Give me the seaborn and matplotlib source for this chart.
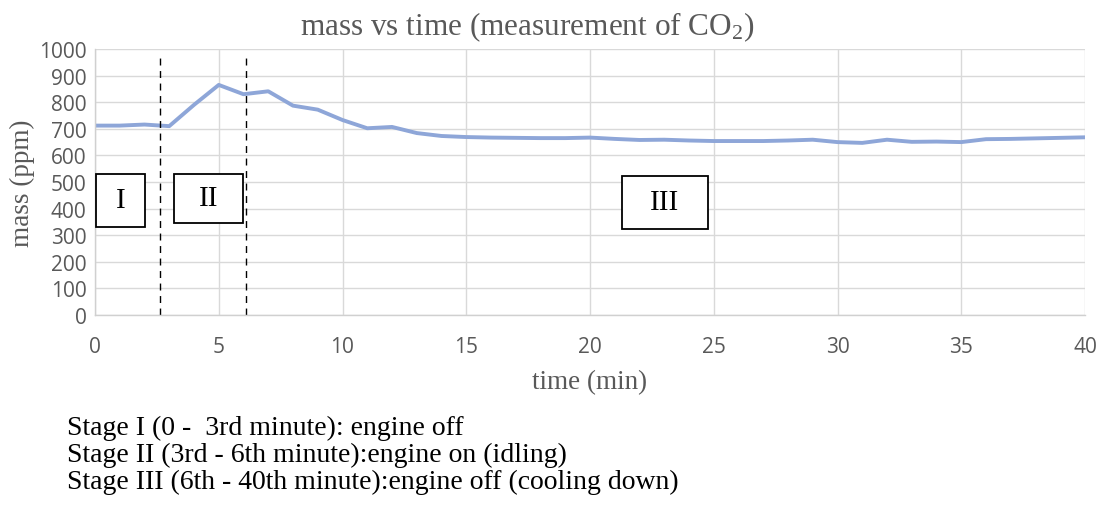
import matplotlib
matplotlib.use("Agg")
import matplotlib.pyplot as plt
import seaborn as sns
import pandas as pd
from matplotlib.patches import Rectangle

# ---- data ----
time_min = list(range(0, 41))
co2_ppm = [712, 712, 716, 710, 790, 865, 830, 841, 787, 772,
           733, 702, 707, 684, 673, 669, 667, 666, 665, 665,
           667, 662, 658, 659, 656, 654, 654, 654, 656, 659,
           650, 647, 659, 651, 652, 650, 661, 662, 664, 666, 668]
stage_bounds = [2.63, 6.1]
stage_labels = ["I", "II", "III"]
notes = ["Stage I (0 -  3rd minute): engine off",
         "Stage II (3rd - 6th minute):engine on (idling)",
         "Stage III (6th - 40th minute):engine off (cooling down)"]

df = pd.DataFrame({"time": time_min, "mass": co2_ppm})

sns.set_theme(style="whitegrid")
plt.rcParams["font.family"] = ["DejaVu Sans"]
plt.rcParams["mathtext.fontset"] = "custom"
plt.rcParams["mathtext.rm"] = "Liberation Serif"
plt.rcParams["mathtext.it"] = "Liberation Serif:italic"
plt.rcParams["mathtext.bf"] = "Liberation Serif:bold"

W, H = 1101, 506
fig = plt.figure(figsize=(W / 100, H / 100), dpi=100)
L, R, T, B = 95, 1085, 50, 316
ax = fig.add_axes([L / W, (H - B) / H, (R - L) / W, (B - T) / H])

sns.lineplot(data=df, x="time", y="mass", ax=ax, color="#8EA6D8", linewidth=2.8)

ax.set_xlim(0, 40)
ax.set_ylim(0, 1000)
ax.set_xticks(range(0, 41, 5))
ax.set_yticks(range(0, 1001, 100))
ax.grid(True, color="#d9d9d9", linewidth=1.0)
ax.set_axisbelow(True)
for s in ["top", "right"]:
    ax.spines[s].set_visible(False)
for s in ["left", "bottom"]:
    ax.spines[s].set_color("#d0d0d0")
    ax.spines[s].set_linewidth(1.0)
ax.tick_params(axis="both", length=0, colors="#595959", labelsize=15)
ax.tick_params(axis="x", pad=15)
ax.tick_params(axis="y", pad=6)
for lab in ax.get_xticklabels() + ax.get_yticklabels():
    lab.set_fontfamily("Open Sans")

serif = ["Liberation Serif", "DejaVu Serif"]
ax.set_xlabel("time (min)", fontsize=19.5, color="#595959", family=serif)
ax.set_ylabel("mass (ppm)", fontsize=19.5, color="#595959", family=serif)
ax.xaxis.set_label_coords((590 - L) / (R - L), (B - 383) / (B - T))
ax.yaxis.set_label_coords((22 - L) / (R - L), (B - 183) / (B - T))
ax.yaxis.label.set_va("center")
ax.xaxis.label.set_va("center")
ax.text((527 - L) / (R - L), (B - 27) / (B - T), "mass vs time (measurement of CO$_2$)",
        transform=ax.transAxes, ha="center", va="center", fontsize=22.5,
        color="#595959", family=serif)

# dashed stage boundaries
for b in stage_bounds:
    ax.plot([b, b], [0, 980], color="black", linestyle=(0, (5, 4)), linewidth=1.0)

# stage boxes
boxes = [(0.04, 331, 1.98, 199), (3.19, 346, 2.79, 184), (21.29, 323, 3.48, 200)]
for (x0, y0, w, h), lab in zip(boxes, stage_labels):
    ax.add_patch(Rectangle((x0, y0), w, h, facecolor="white", edgecolor="black",
                           linewidth=1.3, zorder=5))
    ax.text(x0 + w / 2, y0 + h / 2, lab, ha="center", va="center", fontsize=21,
            family=serif, color="black", zorder=6)

# notes below chart
for i, t in enumerate(notes):
    fig.text(67 / W, 1 - (428 + 27 * i) / H, t, ha="left", va="center",
             fontsize=20, family=serif, color="black")

fig.savefig("out.png", dpi=100)
